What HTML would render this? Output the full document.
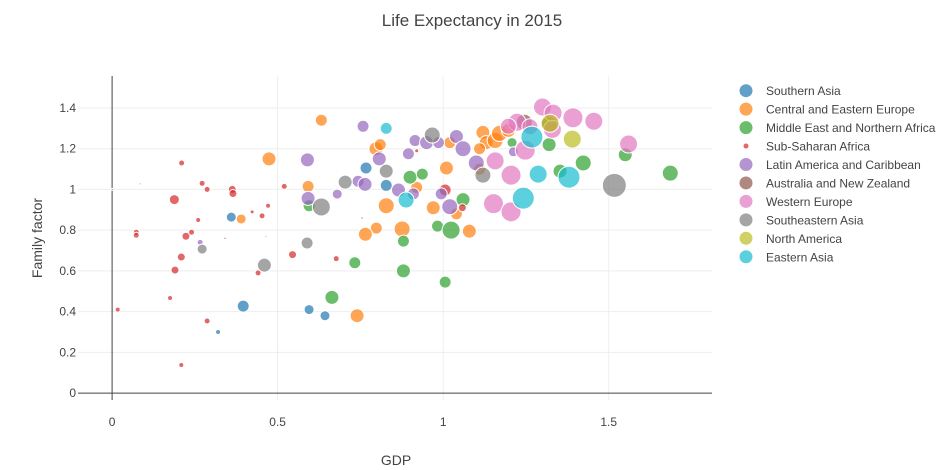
<!DOCTYPE html>
<html><head><meta charset="utf-8"><style>
body{margin:0;background:#fff;}
svg{font-family:"Liberation Sans",sans-serif;display:block}
</style></head><body>
<svg id="chart" width="945" height="470"></svg>
<script>
const regions=["Southern Asia","Central and Eastern Europe","Middle East and Northern Africa","Sub-Saharan Africa","Latin America and Caribbean","Australia and New Zealand","Western Europe","Southeastern Asia","North America","Eastern Asia"];
const colors=["#1f77b4","#ff7f0e","#2ca02c","#d62728","#9467bd","#8c564b","#e377c2","#7f7f7f","#bcbd22","#17becf"];
const xTicks=[0,0.5,1,1.5];
const yTicks=[0,0.2,0.4,0.6,0.8,1,1.2,1.4];
// [gdp, family, size] per region
const southernAsia=[[0.36,0.864,5],[0.396,0.427,6],[0.32,0.30,2.5],[0.595,0.41,5],[0.643,0.38,5],[0.767,1.105,6],[0.828,1.02,6]];
const centralEurope=[[0.474,1.15,7],[0.632,1.34,6],[0.592,1.015,6],[0.39,0.855,5],[0.797,1.20,7],[0.828,0.92,8],[0.798,0.81,6],[0.765,0.78,7],[0.74,0.38,7],[0.876,0.806,8],[1.01,1.105,7],[0.97,0.91,7],[1.079,0.795,7],[0.92,1.01,6],[1.04,0.88,6],[1.02,1.23,6],[1.12,1.28,7],[1.13,1.23,7],[1.11,1.2,6],[1.157,1.24,8],[1.17,1.275,8],[1.197,1.29,7],[1.11,1.1,6],[0.81,1.22,6]];
const middleEast=[[0.664,0.47,7],[0.733,0.64,6],[0.595,0.92,6],[0.88,0.746,6],[0.88,0.60,7],[1.006,0.545,6],[0.983,0.82,6],[1.024,0.80,9],[1.06,0.95,7],[0.9,1.06,7],[0.937,1.075,6],[1.32,1.22,7],[1.353,1.09,7],[1.423,1.13,8],[1.55,1.17,7],[1.686,1.08,8],[1.208,1.23,5]];
const subSaharan=[[0.017,0.41,2.5],[0.073,0.79,3],[0.073,0.775,3],[0.085,1.027,1],[0,1.0,1],[0.188,0.95,5],[0.21,1.13,3],[0.175,0.467,2.5],[0.19,0.604,4],[0.209,0.668,4],[0.223,0.77,4],[0.24,0.79,3],[0.209,0.138,2.5],[0.287,0.354,3],[0.26,0.85,2.5],[0.272,1.03,3],[0.287,1.0,3],[0.363,1.0,4],[0.365,0.98,4],[0.423,0.89,2],[0.453,0.87,3],[0.471,0.92,2.5],[0.465,0.77,1],[0.341,0.76,1.2],[0.441,0.59,3],[0.52,1.015,3],[0.545,0.68,4],[0.677,0.66,3],[0.755,0.86,1.2],[0.92,1.19,2],[1.006,0.997,6],[1.058,0.91,4]];
const latinAmerica=[[0.59,1.145,7],[0.758,1.31,6],[0.807,1.15,7],[0.592,0.956,7],[0.68,0.977,5],[0.743,1.04,6],[0.764,1.025,7],[0.266,0.74,3],[0.895,1.175,6],[0.915,1.24,6],[0.95,1.23,7],[0.986,1.23,6],[1.04,1.26,7],[1.06,1.2,8],[1.1,1.13,8],[1.212,1.185,5],[0.865,0.997,7],[0.994,0.978,6],[1.02,0.915,8],[0.91,0.978,6]];
const australiaNZ=[[1.245,1.33,8],[1.32,1.32,8]];
const westernEurope=[[1.30,1.405,9],[1.332,1.375,9],[1.392,1.352,10],[1.455,1.335,9],[1.56,1.223,9],[1.205,1.07,10],[1.152,0.93,10],[1.205,0.89,10],[1.157,1.14,9],[1.248,1.193,10],[1.223,1.33,9],[1.262,1.308,8],[1.33,1.295,9],[1.197,1.31,8]];
const southeastAsia=[[0.272,0.707,5],[0.46,0.628,7],[0.589,0.737,6],[0.632,0.914,9],[0.704,1.036,7],[0.828,1.09,7],[0.967,1.267,8],[1.12,1.07,8],[1.517,1.02,12]];
const northAmerica=[[1.323,1.325,9],[1.39,1.247,9]];
const eastAsia=[[0.828,1.30,6],[0.888,0.948,8],[1.268,1.257,11],[1.287,1.075,9],[1.38,1.06,11],[1.242,0.957,11]];
const series=[southernAsia,centralEurope,middleEast,subSaharan,latinAmerica,australiaNZ,westernEurope,southeastAsia,northAmerica,eastAsia];

const L=78,R=712,T=76,B=400;
const xMin=-0.103,xMax=1.812,yMin=-0.034,yMax=1.557;
const sx=v=>L+(v-xMin)/(xMax-xMin)*(R-L);
const sy=v=>B-(v-yMin)/(yMax-yMin)*(B-T);
const NS="http://www.w3.org/2000/svg";
const svg=document.getElementById('chart');
function mk(tag,attrs,parent){const e=document.createElementNS(NS,tag);for(const k in attrs)e.setAttribute(k,attrs[k]);(parent||svg).appendChild(e);return e;}

xTicks.forEach(t=>{
  if(t!==0){const g=mk('line',{x1:sx(t),x2:sx(t),y1:T,y2:B,stroke:'#eee'});
  
  }
  const tx=mk('text',{x:sx(t),y:426,'text-anchor':'middle','font-size':12,fill:'#444'});tx.textContent=t;
  
  
});
yTicks.forEach(t=>{
  if(t!==0){const g=mk('line',{x1:L,x2:R,y1:sy(t),y2:sy(t),stroke:'#eee'});
  
  }
  const tx=mk('text',{x:L-2,y:sy(t)+4,'text-anchor':'end','font-size':12,fill:'#444'});tx.textContent=t;
  
  
});
const xz=mk('line',{x1:L,x2:R,y1:sy(0),y2:sy(0),stroke:'#444','stroke-width':1});


const yz=mk('line',{x1:sx(0),x2:sx(0),y1:T,y2:B,stroke:'#444','stroke-width':1});



series.forEach((pts,i)=>{
  const g=mk('g',{});
  
  
  pts.forEach(p=>{
    const c=mk('circle',{cx:sx(p[0]),cy:sy(p[1]),r:p[2],fill:colors[i],'fill-opacity':0.7,stroke:'#fff','stroke-width':1},g);
    
    
  });
});

regions.forEach((r,i)=>{
  const y=90.7+i*18.45;
  const g=mk('g',{});
  
  
  mk('circle',{cx:746,cy:y,r:i===3?2.5:6.5,fill:colors[i],'fill-opacity':0.7},g);
  const t=mk('text',{x:766,y:y+4.5,'font-size':12,fill:'#444'},g);t.textContent=r;
});

const title=mk('text',{x:472,y:26,'text-anchor':'middle','font-size':17,fill:'#444'});title.textContent='Life Expectancy in 2015';


const xt=mk('text',{x:396,y:465,'text-anchor':'middle','font-size':14,fill:'#444'});xt.textContent='GDP';


const yt=mk('text',{x:0,y:0,'text-anchor':'middle','font-size':14,fill:'#444',transform:'translate(42,238) rotate(-90)'});yt.textContent='Family factor';


</script>
</body></html>
